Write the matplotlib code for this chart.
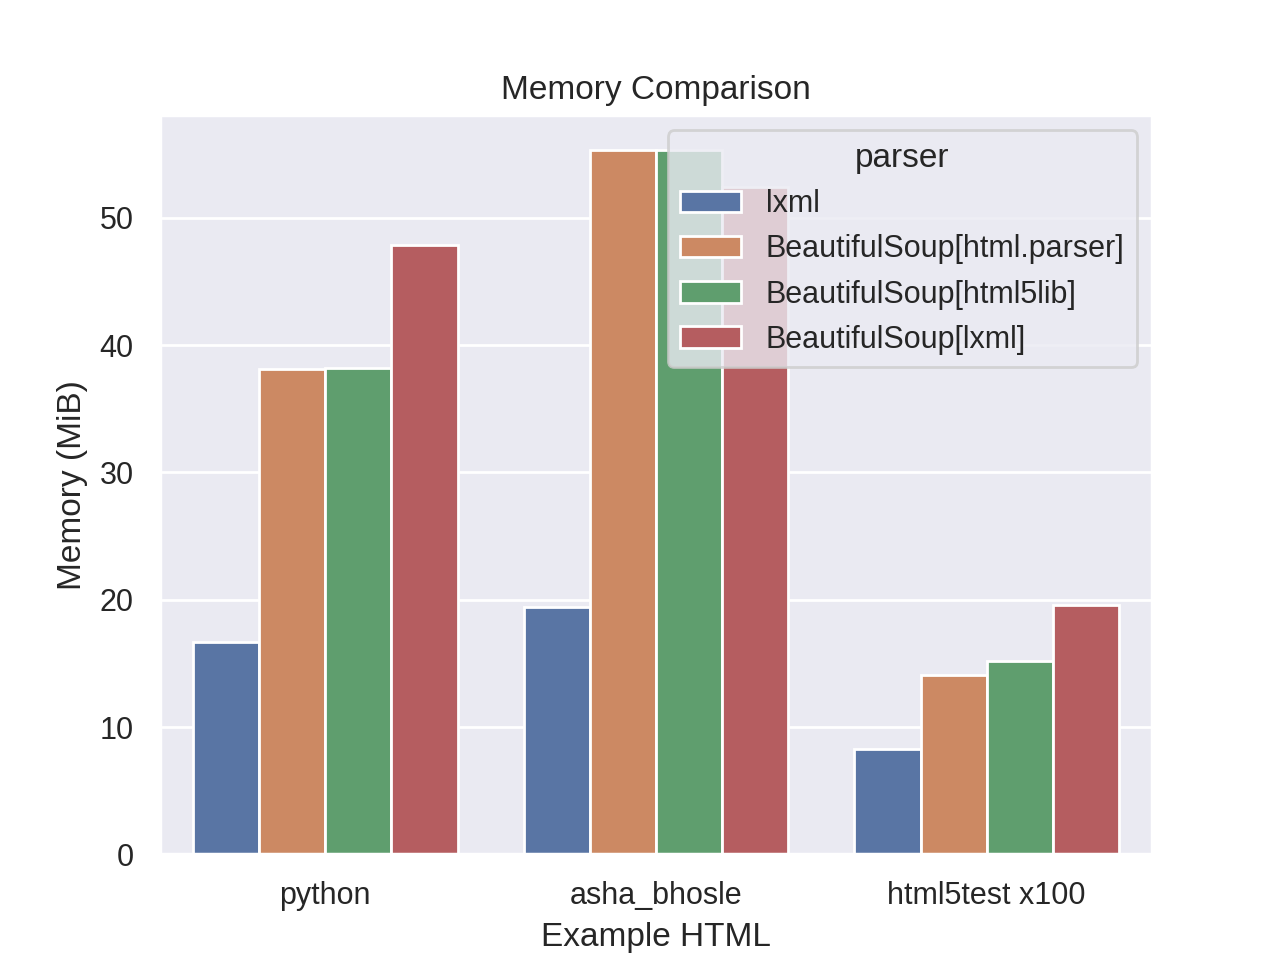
import pandas as pd
import matplotlib
matplotlib.use("Agg")
import matplotlib.pyplot as plt
import seaborn as sns

# Values
examples = ["python", "asha_bhosle", "html5test x100"]
parsers = ["lxml", "BeautifulSoup[html.parser]", "BeautifulSoup[html5lib]",
           "BeautifulSoup[lxml]"]
mem_lxml = [16.7, 19.4, 8.25]
mem_bs_htmlparser = [38.1, 55.3, 14.1]
mem_bs_html5lib = [38.2, 55.3, 15.2]
mem_bs_lxml = [47.9, 52.4, 19.6]


def main():
    sns.set_theme()
    # Arial-like font, set after set_theme so it sticks
    plt.rcParams["font.family"] = ["Liberation Sans", "DejaVu Sans"]

    rows = []
    for vals, parser in zip([mem_lxml, mem_bs_htmlparser, mem_bs_html5lib,
                             mem_bs_lxml], parsers):
        for ex, v in zip(examples, vals):
            rows.append({"Example HTML": ex, "parser": parser,
                         "Memory (MiB)": v})
    df = pd.DataFrame(rows)

    fig, ax = plt.subplots(figsize=(6.4, 4.8), dpi=200)
    sns.barplot(data=df, x="Example HTML", y="Memory (MiB)", hue="parser",
                hue_order=parsers, order=examples, ax=ax)
    ax.set_title("Memory Comparison")
    fig.savefig("out.png")


if __name__ == "__main__":
    main()
